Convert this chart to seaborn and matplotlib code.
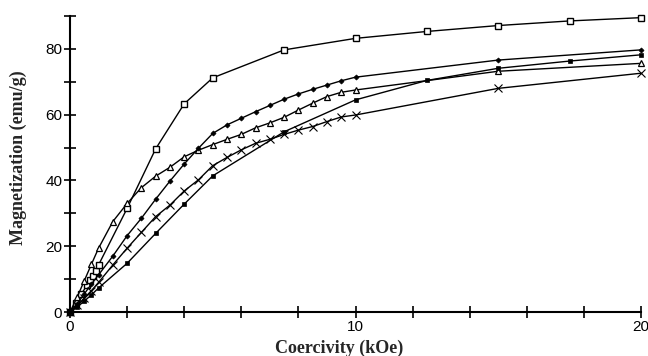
import matplotlib
matplotlib.use("Agg")
import matplotlib.pyplot as plt
import seaborn as sns
import pandas as pd
from matplotlib.ticker import MultipleLocator

# Data (Coercivity kOe vs Magnetization emu/g)
sq_x = [0, 0.2, 0.4, 0.6, 0.7, 0.8, 0.9, 1.0, 2, 3, 4, 5, 7.5, 10, 12.5, 15, 17.5, 20]
sq_y = [0, 2.8, 5.5, 8.2, 9.6, 11.0, 12.5, 14.3, 31.5, 49.6, 63.3, 71.2, 79.7, 83.2, 85.3, 87.1, 88.5, 89.5]

tri_x = [0, 0.25, 0.5, 0.75, 1.0, 1.5, 2, 2.5, 3, 3.5, 4, 4.5, 5, 5.5, 6, 6.5, 7, 7.5, 8, 8.5, 9, 9.5, 10, 15, 20]
tri_y = [0, 4.5, 9.5, 14.5, 19.4, 27.5, 33, 37.8, 41.3, 44, 47.2, 49.2, 50.9, 52.5, 54, 56, 57.5, 59.2, 61.4, 63.5, 65.5, 66.8, 67.5, 73.2, 75.6]

dia_x = [0, 0.25, 0.5, 0.75, 1.0, 1.5, 2, 2.5, 3, 3.5, 4, 4.5, 5, 5.5, 6, 6.5, 7, 7.5, 8, 8.5, 9, 9.5, 10, 15, 20]
dia_y = [0, 2.5, 5.5, 8.5, 11.3, 17, 23.2, 28.5, 34.3, 39.8, 45, 49.8, 54.3, 56.9, 58.9, 60.9, 62.8, 64.7, 66.3, 67.7, 69, 70.3, 71.4, 76.6, 79.7]

cross_x = [0, 0.25, 0.5, 0.75, 1.0, 1.5, 2, 2.5, 3, 3.5, 4, 4.5, 5, 5.5, 6, 6.5, 7, 7.5, 8, 8.5, 9, 9.5, 10, 15, 20]
cross_y = [0, 2, 4.2, 6.5, 9, 14.3, 19.4, 24.2, 29, 32.5, 36.8, 40.2, 44.5, 47, 49.3, 51.3, 52.5, 54, 55.3, 56.4, 57.9, 59.3, 59.9, 68, 72.6]

fsq_x = [0, 0.25, 0.5, 0.75, 1.0, 2, 3, 4, 5, 7.5, 10, 12.5, 15, 17.5, 20]
fsq_y = [0, 1.5, 3.3, 5.2, 7.3, 14.8, 23.9, 32.8, 41.4, 54.8, 64.5, 70.4, 74.1, 76.3, 78.2]

x_ticks = [0, 10, 20]
y_ticks = [0, 20, 40, 60, 80]
x_label = "Coercivity (kOe)"
y_label = "Magnetization (emu/g)"

sns.set_style("ticks")
plt.rcParams['font.family'] = ['Liberation Sans', 'DejaVu Sans']

fig = plt.figure(figsize=(6.48, 3.56), dpi=100)
ax = fig.add_axes([70/648, 1-312/356, (641-70)/648, (312-16)/356])

series = [
    (sq_x, sq_y, dict(marker='s', markersize=4.3, markerfacecolor='white', markeredgecolor='black', markeredgewidth=1.0)),
    (tri_x, tri_y, dict(marker='^', markersize=4.5, markerfacecolor='white', markeredgecolor='black', markeredgewidth=0.9)),
    (dia_x, dia_y, dict(marker='D', markersize=2.6, markerfacecolor='black', markeredgecolor='black', markeredgewidth=0.5)),
    (cross_x, cross_y, dict(marker='x', markersize=5.5, markeredgecolor='black', markeredgewidth=0.8)),
    (fsq_x, fsq_y, dict(marker='s', markersize=3.3, markerfacecolor='black', markeredgecolor='black', markeredgewidth=0.5)),
]
for xs, ys, kw in series:
    df = pd.DataFrame({"x": xs, "y": ys})
    sns.lineplot(data=df, x="x", y="y", ax=ax, color='black', linewidth=1.0,
                 sort=False, estimator=None, **kw)

ax.set_xlim(0, 20)
ax.set_ylim(0, 90)
ax.set_xticks(x_ticks)
ax.set_yticks(y_ticks)
ax.xaxis.set_minor_locator(MultipleLocator(2))
ax.yaxis.set_minor_locator(MultipleLocator(10))
ax.tick_params(which='both', direction='inout', length=9, width=1.2, color='black',
               labelsize=11, labelcolor='black', pad=1)
ax.tick_params(which='minor', length=8)
for s in ['top', 'right']:
    ax.spines[s].set_visible(False)
for s in ['left', 'bottom']:
    ax.spines[s].set_linewidth(1.5)
    ax.spines[s].set_color('black')
for line in ax.lines:
    line.set_clip_on(False)

ax.set_xlabel(x_label, fontsize=13, fontweight='bold', family=['Liberation Serif'])
ax.set_ylabel(y_label, fontsize=13, fontweight='bold', family=['Liberation Serif'])
ax.xaxis.set_label_coords(0.472, -0.095)
ax.yaxis.set_label_coords(-0.075, 0.52)

fig.savefig("out.png", dpi=100)
